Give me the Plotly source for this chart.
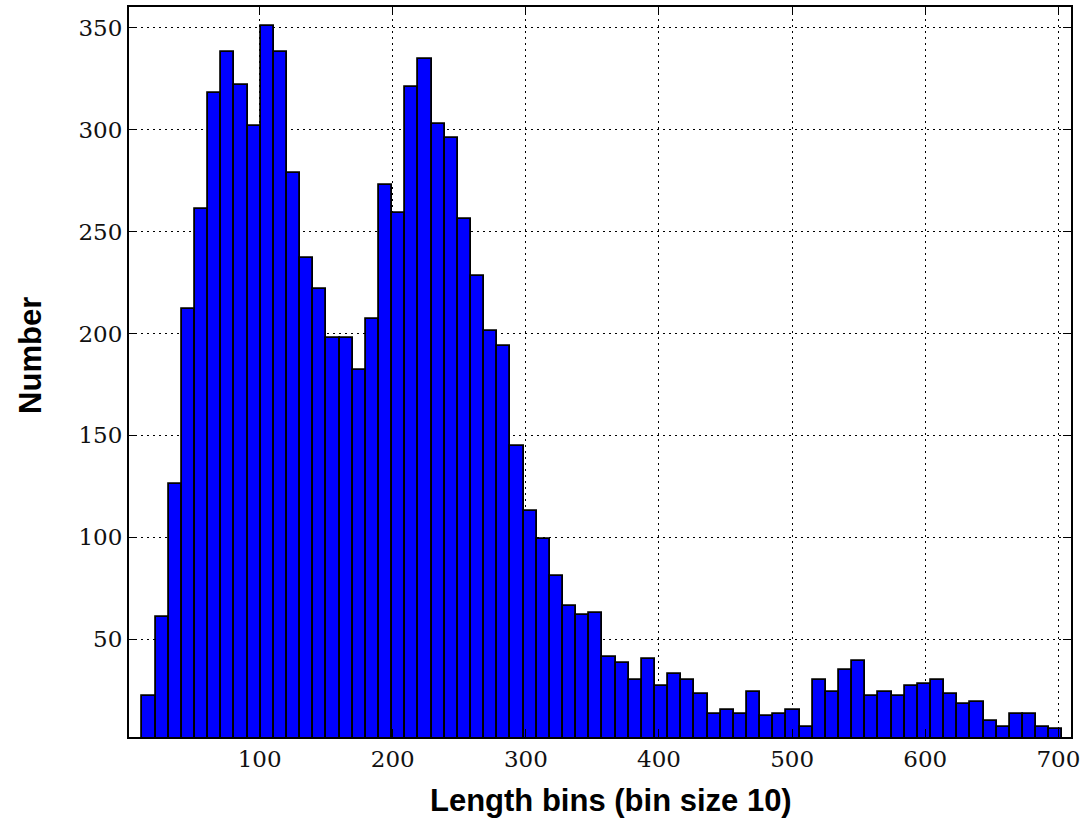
import numpy as np
import plotly.graph_objects as go

# Histogram of lengths, 70 bins between the smallest and largest length
length_min = 12.0
length_max = 703.0
counts = [
    22, 61, 126, 212, 261, 318, 338, 322, 302, 351,
    338, 279, 237, 222, 198, 198, 182, 207, 273, 259,
    321, 335, 303, 296, 256, 228, 201, 194, 145, 113,
    99, 81, 66, 62, 63, 41, 38, 30, 40, 27,
    33, 30, 23, 13, 15, 13, 24, 12, 13, 15,
    7, 30, 24, 35, 39, 22, 24, 22, 27, 28,
    30, 23, 18, 19, 10, 7, 13, 13, 7, 6,
]
x_ticks = [100, 200, 300, 400, 500, 600, 700]
y_ticks = [50, 100, 150, 200, 250, 300, 350]

edges = np.linspace(length_min, length_max, len(counts) + 1)
centers = (edges[:-1] + edges[1:]) / 2
width = edges[1] - edges[0]

fig = go.Figure(
    go.Bar(
        x=centers,
        y=counts,
        width=width,
        marker=dict(color="#0000FF", line=dict(color="black", width=1.8)),
        hoverinfo="x+y",
    )
)

tick_font = dict(family="DejaVu Serif", size=23, color="#111111")
grid = dict(
    showgrid=True,
    gridcolor="black",
    gridwidth=1,
    griddash="2px,4px",
    zeroline=False,
    showline=True,
    linecolor="black",
    linewidth=2,
    mirror="allticks",
    ticks="inside",
    ticklen=8,
    tickwidth=1,
    tickcolor="black",
    tickfont=tick_font,
)

fig.update_xaxes(range=[1.9, 709.5], tickvals=x_ticks, **grid)
fig.update_yaxes(range=[1.9, 360.3], tickvals=y_ticks, **grid)

title_font = dict(family="Liberation Sans, Arial, sans-serif", size=31, color="black")
fig.update_layout(
    width=1086,
    height=827,
    margin=dict(l=129, r=15, t=7, b=90, autoexpand=False),
    plot_bgcolor="white",
    paper_bgcolor="white",
    bargap=0,
    showlegend=False,
    annotations=[
        dict(
            text="<b>Length bins (bin size 10)</b>",
            xref="paper", yref="paper",
            x=0.5115, y=-0.0868,
            xanchor="center", yanchor="middle",
            showarrow=False, font=title_font,
        ),
        dict(
            text="<b>Number</b>",
            xref="paper", yref="paper",
            x=-0.1054, y=0.523,
            xanchor="center", yanchor="middle",
            textangle=-90,
            showarrow=False, font=title_font,
        ),
    ],
)

fig.write_html("out.html")
